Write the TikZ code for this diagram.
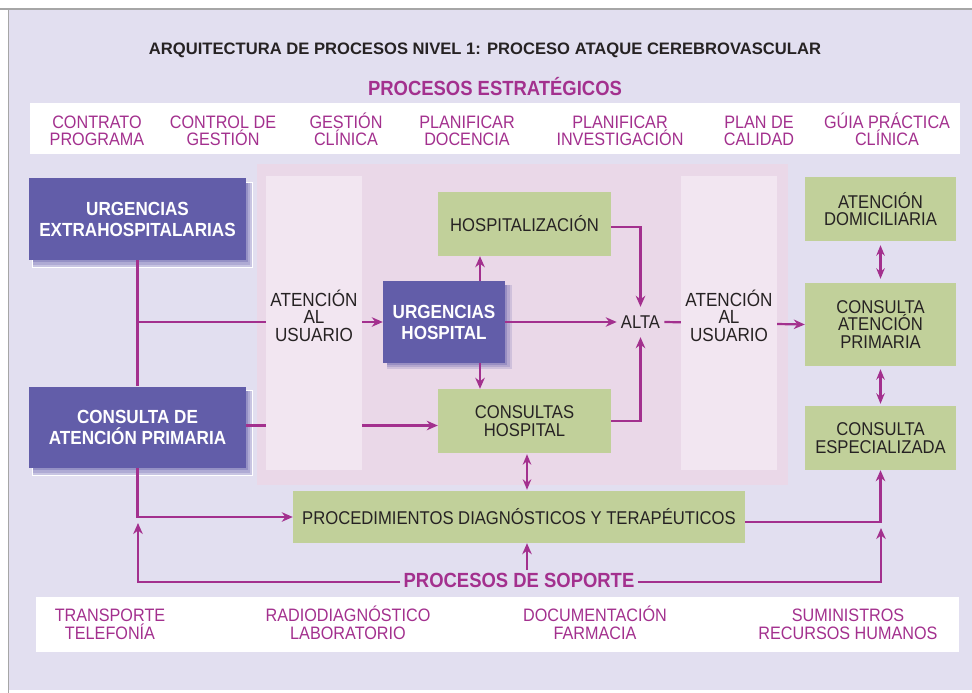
\documentclass[tikz,border=0pt]{standalone}
\usepackage{fontspec}
\setmainfont{Liberation Sans}[FakeStretch=0.9]
\newfontfamily\widefont{Liberation Sans}
\usetikzlibrary{arrows.meta,calc}
\definecolor{lav}{HTML}{E2DFF0}
\definecolor{pinkp}{HTML}{EAD8E8}
\definecolor{colc}{HTML}{F2E6F1}
\definecolor{purp}{HTML}{625DA9}
\definecolor{grn}{HTML}{C1D09A}
\definecolor{mag}{HTML}{A3308E}
\definecolor{dark}{HTML}{262223}
\tikzset{
  pbox/.style={fill=purp, text=white, font=\fontsize{19}{21}\selectfont\bfseries, align=center, inner sep=0pt},
  gbox/.style={fill=grn, text=dark, font=\fontsize{18.5}{17.5}\selectfont, align=center, inner sep=0pt},
  colbox/.style={fill=colc, inner sep=0pt, minimum width=96, minimum height=294},
  coltext/.style={text=dark, font=\fontsize{19}{17.5}\selectfont, align=center, inner sep=0pt, anchor=base},
  strat/.style={text=mag, font=\fontsize{18}{17.4}\selectfont, align=center, inner sep=0pt, anchor=base},
  supp/.style={text=mag, font=\fontsize{18}{17.7}\selectfont, align=center, inner sep=0pt, anchor=base},
  heading/.style={text=mag, font=\fontsize{20.5}{20}\selectfont\bfseries, inner sep=3pt},
  conn/.style={draw=mag, line width=2.2pt},
  arr/.style={conn, -{Stealth[length=11pt,width=9.5pt,inset=3.5pt]}},
  darr/.style={conn, {Stealth[length=10.5pt,width=8.5pt,inset=3.5pt]}-{Stealth[length=10.5pt,width=8.5pt,inset=3.5pt]}},
}
\begin{document}
\begin{tikzpicture}[x=1pt,y=-1pt]
\useasboundingbox (0,0) rectangle (972,693);
\fill[white] (0,0) rectangle (972,693);
\fill[lav] (8,10) rectangle (972,690);
\draw[black!35, line width=1.2pt] (0,9) -- (972,9);
\draw[black!35, line width=1pt] (8,9) -- (8,693);
% title
\node[text=dark, font=\fontsize{16.6}{16.6}\selectfont\widefont\bfseries] (title) at (485,50) {ARQUITECTURA DE PROCESOS NIVEL 1: PROCESO ATAQUE CEREBROVASCULAR};
\node[heading] (estr) at (495,87) {PROCESOS ESTRATÉGICOS};
% strategic strip
\fill[white] (30,103) rectangle (960,154);
\node[strat] (s1) at (97,145.7) {CONTRATO\\PROGRAMA};
\node[strat] (s2) at (223,145.7) {CONTROL DE\\GESTIÓN};
\node[strat] (s3) at (346,145.7) {GESTIÓN\\CLÍNICA};
\node[strat] (s4) at (467,145.7) {PLANIFICAR\\DOCENCIA};
\node[strat] (s5) at (620,145.7) {PLANIFICAR\\INVESTIGACIÓN};
\node[strat] (s6) at (759,145.7) {PLAN DE\\CALIDAD};
\node[strat] (s7) at (887,145.7) {GÚIA PRÁCTICA\\CLÍNICA};
% pink panel
\fill[pinkp] (257,164) rectangle (788,485);
% shadows of purple boxes
\fill[white] (32,182) rectangle (253,268);
\fill[purp!20!lav] (33,183) rectangle (252,267);
\fill[purp!40!lav] (33,183) rectangle (249.5,264.5);
\fill[purp!60!lav] (33,183) rectangle (247.5,262);
\fill[white] (32,390) rectangle (253,476);
\fill[purp!20!lav] (33,391) rectangle (252,475);
\fill[purp!40!lav] (33,391) rectangle (249.5,472.5);
\fill[purp!60!lav] (33,391) rectangle (247.5,470);
\fill[purp!20!pinkp] (387,285) rectangle (512,369);
\fill[purp!40!pinkp] (387,285) rectangle (509.5,366.5);
\fill[purp!60!pinkp] (387,285) rectangle (507,364.5);
% node coordinates for connectors (boxes placed later, drawn on top)
\path (137.5,219) node[minimum width=217, minimum height=82, inner sep=0pt] (ue) {};
\path (137.5,427) node[minimum width=217, minimum height=81, inner sep=0pt] (cap) {};
\path (444,322) node[minimum width=122, minimum height=82, inner sep=0pt] (uh) {};
\path (524.5,224) node[minimum width=173, minimum height=64, inner sep=0pt] (hosp) {};
\path (524.5,421) node[minimum width=173, minimum height=64, inner sep=0pt] (ch) {};
\node[text=dark, font=\fontsize{18.5}{18}\selectfont, inner sep=4pt, minimum height=30] (alta) at (640.5,322) {ALTA};
\path (880.5,209) node[minimum width=151, minimum height=64, inner sep=0pt] (ad) {};
\path (880.5,324.5) node[minimum width=151, minimum height=83, inner sep=0pt] (cap2) {};
\path (880.5,438) node[minimum width=151, minimum height=64, inner sep=0pt] (ce) {};
\path (519,517) node[minimum width=452, minimum height=52, inner sep=0pt] (proc) {};
\node[heading] (sop) at (519,580) {PROCESOS DE SOPORTE};
\coordinate (lt) at (138,523);
\coordinate (rt) at (881,528);
% connectors
\draw[conn] (ue.south) -- (cap.north);
\draw[arr] (ue.south |- uh.west) -- (uh.west);
\draw[arr] ([yshift=1.5pt]cap.east) -- ([yshift=1.5pt]cap.east -| ch.west);
\draw[arr] (cap.south) |- (proc.west);
\draw[arr] ([xshift=36pt]uh.north) -- ([xshift=36pt]uh.north |- hosp.south);
\draw[arr] ([xshift=36pt]uh.south) -- ([xshift=36pt]uh.south |- ch.north);
\draw[arr] (uh.east) -- (uh.east -| alta.west);
\draw[arr] ([yshift=-3pt]hosp.east) -| (alta.north);
\draw[arr] (ch.east) -| (alta.south);
\draw[arr] (alta.east) -- (cap2.west);
\draw[darr, shorten <=4pt, shorten >=4pt] (ad.south) -- (cap2.north);
\draw[darr, shorten <=3pt, shorten >=2pt] (cap2.south) -- (ce.north);
\draw[darr, shorten <=1pt, shorten >=1pt] ([xshift=2.5pt]ch.south) -- ([xshift=2.5pt]ch.south |- proc.north);
\draw[arr] ([yshift=-5pt]proc.east) -| (ce.south);
\draw[arr] ([yshift=-2pt]sop.west) -| (lt);
\draw[arr] ([yshift=-2pt]sop.east) -| (rt);
\draw[arr] ([xshift=8pt]sop.north) -- ([xshift=8pt]sop.north |- proc.south);
% columns
\node[colbox] (c1) at (314,322.5) {};
\node[colbox] (c2) at (729,322.5) {};
\node[coltext] (c1t) at (314,341) {ATENCIÓN\\AL\\USUARIO};
\node[coltext] (c2t) at (729,341) {ATENCIÓN\\AL\\USUARIO};
% boxes
\node[pbox, minimum width=217, minimum height=82] (ueb) at (ue) {URGENCIAS\\EXTRAHOSPITALARIAS};
\node[pbox, minimum width=217, minimum height=81] (capb) at (cap) {CONSULTA DE\\ATENCIÓN PRIMARIA};
\node[pbox, minimum width=122, minimum height=82] (uhb) at (uh) {URGENCIAS\\HOSPITAL};
\node[gbox, minimum width=173, minimum height=64] (hospb) at (hosp) {HOSPITALIZACIÓN};
\node[gbox, minimum width=173, minimum height=64] (chb) at (ch) {CONSULTAS\\HOSPITAL};
\node[gbox, minimum width=151, minimum height=64] (adb) at (ad) {ATENCIÓN\\DOMICILIARIA};
\node[gbox, minimum width=151, minimum height=83] (cap2b) at (cap2) {CONSULTA\\ATENCIÓN\\PRIMARIA};
\node[gbox, minimum width=151, minimum height=64] (ceb) at (ce) {CONSULTA\\ESPECIALIZADA};
\node[gbox, minimum width=452, minimum height=52] (procb) at (proc) {PROCEDIMIENTOS DIAGNÓSTICOS Y TERAPÉUTICOS};
% support strip
\fill[white] (36,597) rectangle (959,652);
\node[supp] (p1) at (110,639.3) {TRANSPORTE\\TELEFONÍA};
\node[supp] (p2) at (348,639.3) {RADIODIAGNÓSTICO\\LABORATORIO};
\node[supp] (p3) at (595,639.3) {DOCUMENTACIÓN\\FARMACIA};
\node[supp] (p4) at (848,639.3) {SUMINISTROS\\RECURSOS HUMANOS};
\end{tikzpicture}
\end{document}
